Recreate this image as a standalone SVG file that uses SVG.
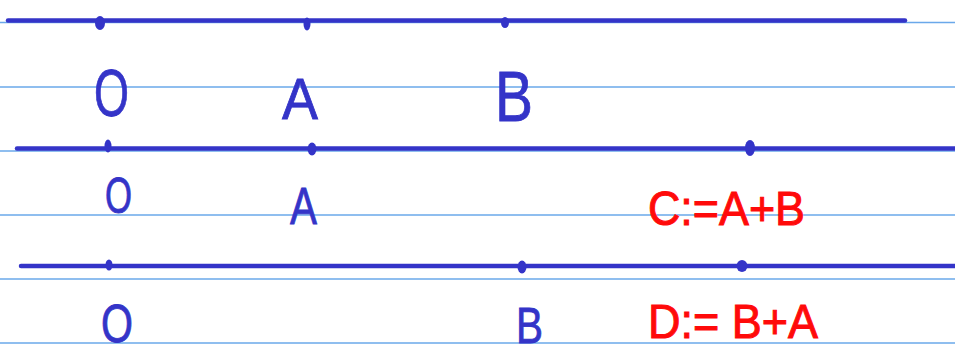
<svg xmlns="http://www.w3.org/2000/svg" width="955" height="354" viewBox="0 0 955 354">
<style>
.rule{stroke:#6aa8ea;stroke-width:1.3;fill:none}
.axis{stroke:#3434c8;stroke-width:4.5;stroke-linecap:round;fill:none}
.dot{fill:#3434c8}
.b{font-family:"Liberation Sans",Arial,sans-serif;fill:#3434c8;stroke:#3434c8;stroke-width:0.8;text-anchor:start}
.r{font-family:"Liberation Sans",Arial,sans-serif;fill:#ff0a0a;stroke:#ff0a0a;stroke-width:1;text-anchor:start}
</style>
<rect width="955" height="354" fill="#ffffff"/>
<g id="ruling">
<line class="rule" x1="0" y1="22.5" x2="955" y2="22.5"/>
<line class="rule" x1="0" y1="87" x2="955" y2="87"/>
<line class="rule" x1="0" y1="151" x2="955" y2="151"/>
<line class="rule" x1="0" y1="215" x2="955" y2="215"/>
<line class="rule" x1="0" y1="279" x2="955" y2="279"/>
<line class="rule" x1="0" y1="343" x2="955" y2="343"/>
</g>
<g id="row1">
<line class="axis" x1="8" y1="20.5" x2="905" y2="20.5"/>
<ellipse class="dot" cx="100" cy="23" rx="5" ry="7"/>
<ellipse class="dot" cx="307" cy="24" rx="3.5" ry="6.5"/>
<ellipse class="dot" cx="505" cy="22.5" rx="4" ry="5.5"/>
<text class="b" x="94" y="116" font-size="66" textLength="35" lengthAdjust="spacingAndGlyphs">O</text>
<text class="b" x="282" y="119" font-size="57" textLength="36" lengthAdjust="spacingAndGlyphs">A</text>
<text class="b" x="495" y="121" font-size="70" textLength="38" lengthAdjust="spacingAndGlyphs">B</text>
</g>
<g id="row2">
<line class="axis" x1="17" y1="148.5" x2="955" y2="148.5"/>
<ellipse class="dot" cx="108" cy="146" rx="3.5" ry="6.5"/>
<ellipse class="dot" cx="312" cy="149" rx="4.5" ry="6.5"/>
<ellipse class="dot" cx="750" cy="148" rx="5" ry="8"/>
<text class="b" x="105" y="213" font-size="50" textLength="27" lengthAdjust="spacingAndGlyphs">O</text>
<text class="b" x="290" y="224" font-size="52" textLength="27" lengthAdjust="spacingAndGlyphs">A</text>
<text class="r" x="648" y="225" font-size="49" textLength="157" lengthAdjust="spacingAndGlyphs">C:=A+B</text>
</g>
<g id="row3">
<line class="axis" x1="21" y1="266" x2="955" y2="266"/>
<ellipse class="dot" cx="109" cy="265" rx="3.5" ry="5.5"/>
<ellipse class="dot" cx="522" cy="267" rx="4.5" ry="6.5"/>
<ellipse class="dot" cx="742" cy="266" rx="5.5" ry="6"/>
<text class="b" x="101" y="342" font-size="54" textLength="32" lengthAdjust="spacingAndGlyphs">O</text>
<text class="b" x="516" y="343" font-size="50" textLength="27" lengthAdjust="spacingAndGlyphs">B</text>
<text class="r" x="648" y="338" font-size="48" textLength="170" lengthAdjust="spacingAndGlyphs">D:= B+A</text>
</g>
</svg>
